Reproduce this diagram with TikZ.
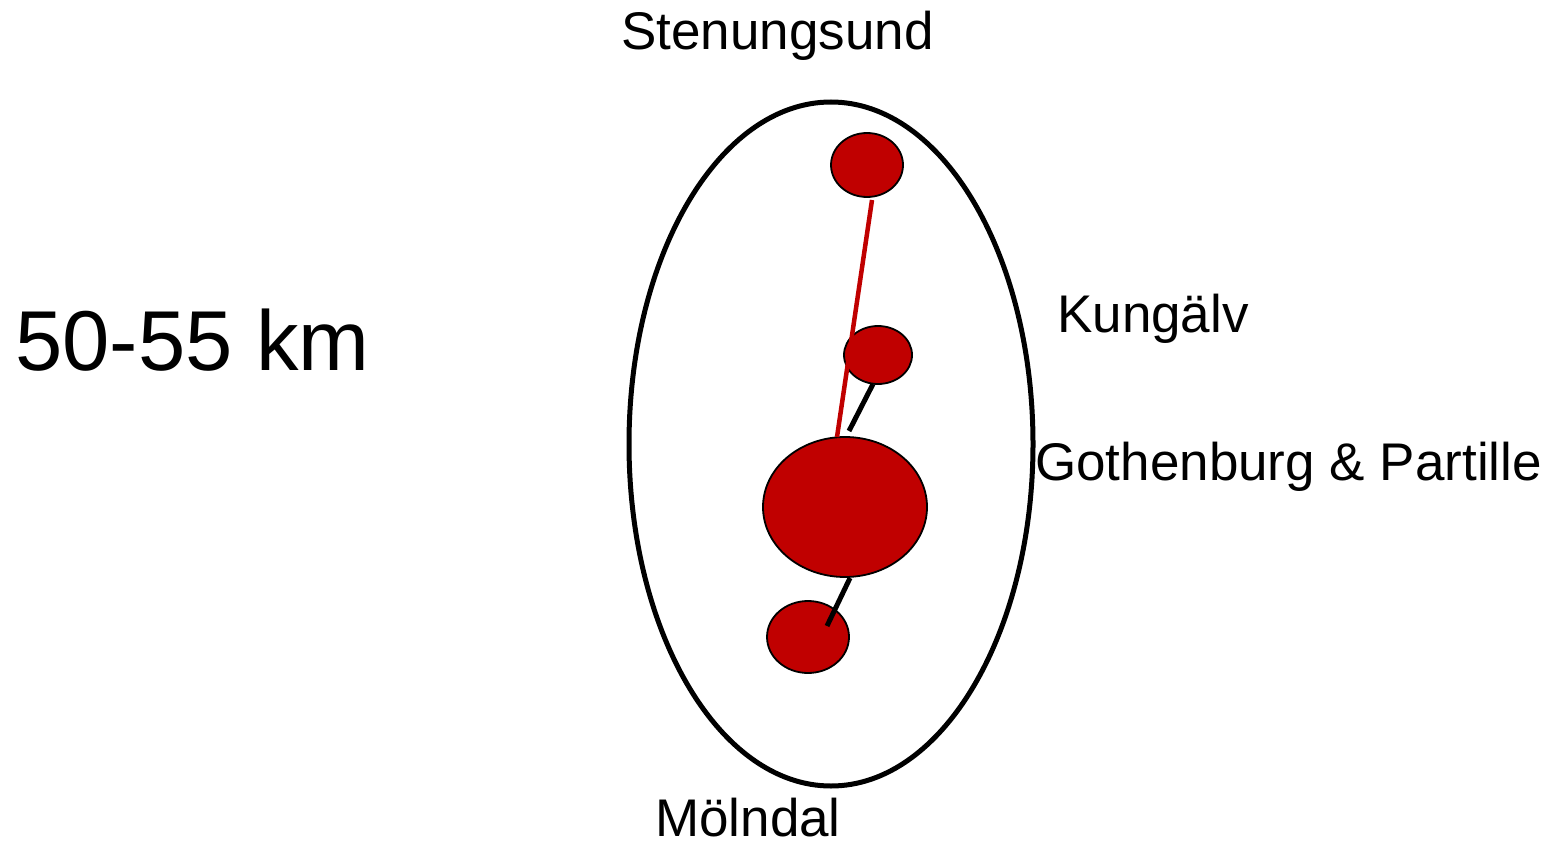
\documentclass[tikz,border=0pt]{standalone}
\usepackage{fontspec}
\setmainfont{Liberation Sans}
\usetikzlibrary{shapes.geometric}
\definecolor{cityred}{RGB}{192,0,0}
\begin{document}
\begin{tikzpicture}[x=1pt,y=-1pt,
  city/.style={ellipse,draw=black,line width=1.8pt,fill=cityred,inner sep=0pt},
  lbl/.style={anchor=base west,inner sep=0pt,font=\fontsize{53}{60}\selectfont},
  link/.style={line width=5pt}]
\useasboundingbox (0,0) rectangle (1555,845);
\draw[line width=5pt] (831,444) ellipse [x radius=202, y radius=342];
\node[city,minimum width=72pt,minimum height=64pt] (sten) at (867,165) {};
\node[city,minimum width=68pt,minimum height=58pt] (kung) at (878,355) {};
\node[city,minimum width=164pt,minimum height=140pt] (goth) at (845,507) {};
\node[city,minimum width=82pt,minimum height=72pt] (mol) at (808,637) {};
\coordinate (r1) at (872,200);
\coordinate (r2) at (837,437);
\coordinate (k1) at (873,384);
\coordinate (k2) at (849,431);
\coordinate (m1) at (850,578);
\coordinate (m2) at (827,626);
\draw[link,cityred,line width=4.5pt] (r1) -- (r2);
\draw[link,black] (k1) -- (k2);
\draw[link,black] (m1) -- (m2);
\node[lbl] (tsten) at (621,50) {Stenungsund};
\node[lbl] (tkung) at (1057,332) {Kungälv};
\node[lbl] (tgoth) at (1035,480) {Gothenburg \& Partille};
\node[lbl] (tmol) at (655,836) {Mölndal};
\node[anchor=base west,inner sep=0pt,font=\fontsize{85}{90}\selectfont] (tkm) at (15,370) {50-55 km};
\end{tikzpicture}
\end{document}
